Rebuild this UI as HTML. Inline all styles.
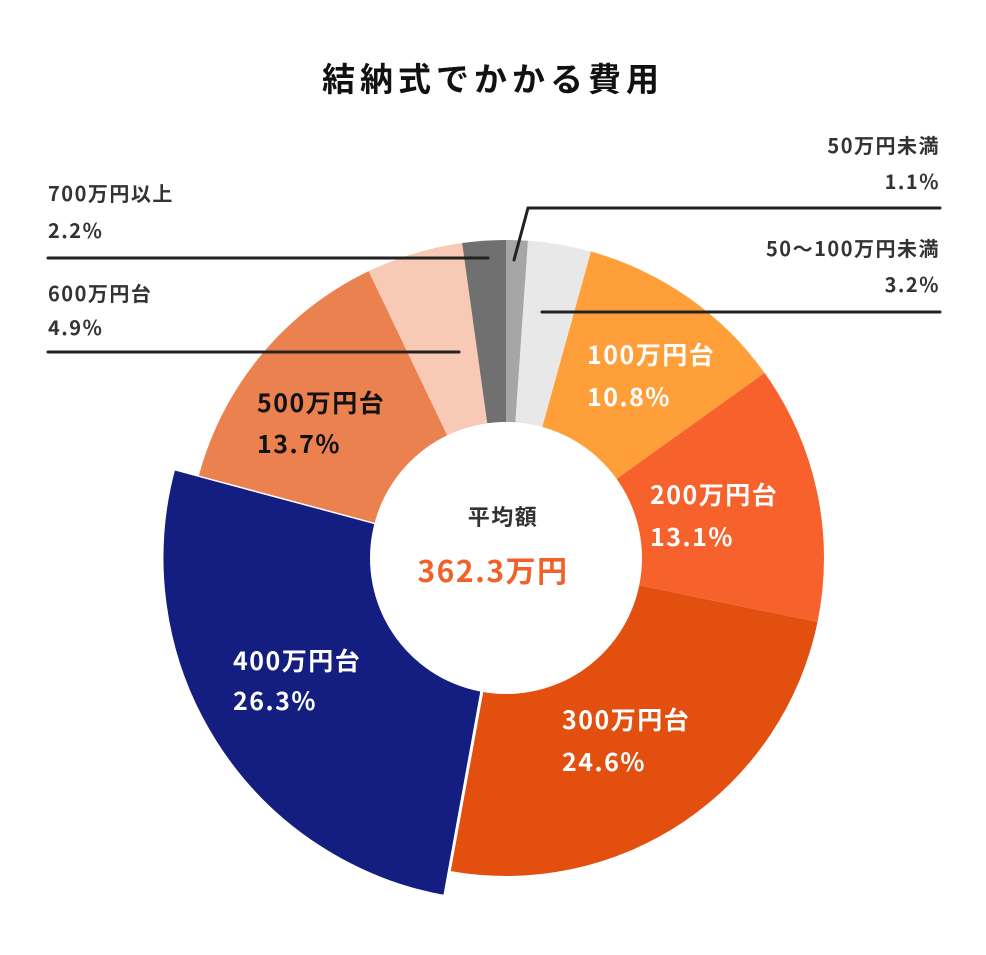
<!DOCTYPE html>
<html><head><meta charset="utf-8"><style>
body{margin:0;background:#fff;}
svg text{font-family:"Noto Sans CJK JP","Liberation Sans",sans-serif;font-weight:bold;letter-spacing:1.5px;}
</style></head><body>
<svg id="s" width="986" height="950" xmlns="http://www.w3.org/2000/svg">
<g id="g"></g>
<circle cx="506" cy="558" r="136" fill="#fff"/>
<text x="493" y="91" font-size="33" text-anchor="middle" fill="#111" style="letter-spacing:5px">結納式でかかる費用</text>
<text x="503" y="525" font-size="22" text-anchor="middle" fill="#333">平均額</text>
<text x="493" y="582" font-size="30" text-anchor="middle" fill="#f0622a">362.3万円</text>
<g fill="#333" font-size="20" style="letter-spacing:3px">
<text x="48" y="201">700万円以上</text><text x="48" y="238">2.2%</text>
<text x="48" y="301">600万円台</text><text x="48" y="335">4.9%</text>
<text x="940" y="153" text-anchor="end">50万円未満</text><text x="940" y="189" text-anchor="end">1.1%</text>
<text x="940" y="256" text-anchor="end">50〜100万円未満</text><text x="940" y="292" text-anchor="end">3.2%</text>
</g>
<g stroke="#222" stroke-width="3" fill="none" stroke-linecap="round">
<path d="M48 258H488"/><path d="M48 352H459"/>
<path d="M514 260L528 208H940"/><path d="M542 312H940"/>
</g>
<g font-size="25" fill="#fff" style="letter-spacing:2.5px">
<text x="587" y="364">100万円台</text><text x="587" y="406">10.8%</text>
<text x="650" y="504">200万円台</text><text x="650" y="546">13.1%</text>
<text x="562" y="729">300万円台</text><text x="562" y="771">24.6%</text>
<text x="233" y="670">400万円台</text><text x="233" y="710">26.3%</text>
<text x="257" y="412" fill="#111">500万円台</text><text x="257" y="453" fill="#111">13.7%</text>
</g>
</svg>
<script>
var cx=506,cy=558,ri=136;
var d=[[1.1,"#a6a6a6",318],[3.2,"#e8e8e8",318],[10.8,"#ff9f3a",318],[13.1,"#f6612c",318],[24.6,"#e24f0e",318],[26.3,"#141e80",344],[13.7,"#ec8150",318],[4.9,"#f8cab6",318],[2.2,"#707070",318]];
var tot=99.9,a=0,h="";
function p(r,t){return (cx+r*Math.sin(t)).toFixed(2)+" "+(cy-r*Math.cos(t)).toFixed(2);}
d.forEach(function(s){var a0=a/tot*2*Math.PI;a+=s[0];var a1=a/tot*2*Math.PI;var l=(a1-a0)>Math.PI?1:0;
h+='<path d="M'+p(ri,a0)+'L'+p(s[2],a0)+'A'+s[2]+' '+s[2]+' 0 '+l+' 1 '+p(s[2],a1)+'L'+p(ri,a1)+'Z" fill="'+s[1]+'"'+(s[2]>318?' stroke="#fff" stroke-width="3"':'')+'/>';});
document.getElementById("g").innerHTML=h;
</script>
</body></html>
